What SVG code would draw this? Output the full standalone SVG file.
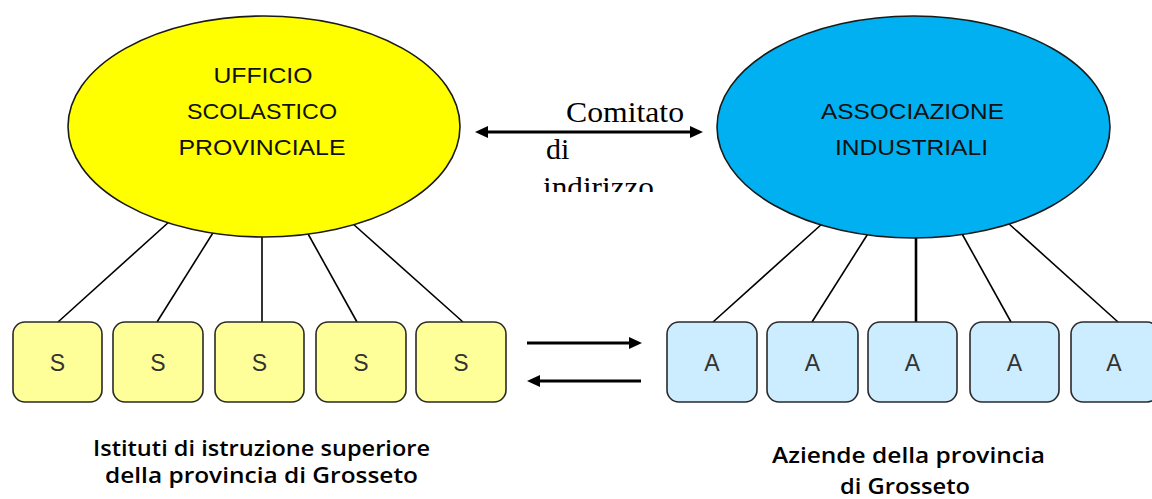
<svg xmlns="http://www.w3.org/2000/svg" width="1152" height="499" viewBox="0 0 1152 499">
  <style>
    .conn { stroke: #000; stroke-width: 1.6; fill: none; }
    .arrow { stroke: #000; stroke-width: 3; fill: none; }
    .ell { stroke: #1a1a1a; stroke-width: 1.6; }
    .sbox { fill: #FFFF99; stroke: #2a2a2a; stroke-width: 1.6; }
    .abox { fill: #CCECFF; stroke: #2a2a2a; stroke-width: 1.6; }
    .etxt { font-family: "Liberation Sans", Arial, sans-serif; font-size: 22px; fill: #111; text-anchor: middle; }
    .btxt { font-family: "Liberation Sans", Arial, sans-serif; font-size: 23px; fill: #333; text-anchor: middle; }
    .cap { font-family: "Open Sans", "Liberation Sans", sans-serif; font-size: 21px; font-weight: 600; fill: #000; text-anchor: middle; }
    .serif { font-family: "Liberation Serif", "Times New Roman", serif; font-size: 30px; fill: #000; }
  </style>
  <defs>
    <marker id="ah" markerUnits="userSpaceOnUse" markerWidth="14" markerHeight="12" refX="3" refY="6" orient="auto-start-reverse">
      <path d="M0,0 L13,6 L0,12 z" fill="#000"/>
    </marker>
    <clipPath id="clipText">
      <rect x="0" y="0" width="1152" height="192"/>
    </clipPath>
  </defs>

  <g id="connectors">
    <line class="conn" x1="170" y1="221" x2="58" y2="322"/>
    <line class="conn" x1="216" y1="228" x2="157" y2="322"/>
    <line class="conn" x1="262" y1="234" x2="262" y2="322"/>
    <line class="conn" x1="307" y1="232" x2="357" y2="322"/>
    <line class="conn" x1="352" y1="223" x2="463" y2="322"/>

    <line class="conn" x1="823" y1="223" x2="713" y2="322"/>
    <line class="conn" x1="869" y1="232" x2="812" y2="322"/>
    <line class="conn" x1="916" y1="235" x2="916" y2="322" style="stroke-width:2.6"/>
    <line class="conn" x1="961" y1="232" x2="1011" y2="322"/>
    <line class="conn" x1="1008" y1="223" x2="1118" y2="322"/>

    <line class="arrow" x1="485" y1="132" x2="693" y2="132" marker-start="url(#ah)" marker-end="url(#ah)"/>
    <line class="arrow" x1="527" y1="343" x2="632" y2="343" marker-end="url(#ah)"/>
    <line class="arrow" x1="641" y1="381" x2="537" y2="381" marker-end="url(#ah)"/>
  </g>

  <g id="comitato-label">
    <text class="serif" x="566" y="122" textLength="118" lengthAdjust="spacingAndGlyphs">Comitato</text>
    <text class="serif" x="546" y="159">di</text>
    <text class="serif" x="543" y="197" clip-path="url(#clipText)" textLength="111" lengthAdjust="spacingAndGlyphs">indirizzo</text>
  </g>

  <g id="ufficio">
    <ellipse class="ell" cx="264" cy="126.5" rx="196" ry="110.5" fill="#FFFF00"/>
    <text class="etxt" x="263" y="83" textLength="99" lengthAdjust="spacingAndGlyphs">UFFICIO</text>
    <text class="etxt" x="262" y="119" textLength="150" lengthAdjust="spacingAndGlyphs">SCOLASTICO</text>
    <text class="etxt" x="262" y="155" textLength="167" lengthAdjust="spacingAndGlyphs">PROVINCIALE</text>
  </g>

  <g id="associazione">
    <ellipse class="ell" cx="913.5" cy="127" rx="196.5" ry="111" fill="#00B0F0"/>
    <text class="etxt" x="912.5" y="119" textLength="183" lengthAdjust="spacingAndGlyphs">ASSOCIAZIONE</text>
    <text class="etxt" x="911.5" y="155" textLength="153" lengthAdjust="spacingAndGlyphs">INDUSTRIALI</text>
  </g>

  <g id="s1"><rect class="sbox" x="13" y="322" width="89" height="80" rx="12"/><text class="btxt" x="57.5" y="371">S</text></g>
  <g id="s2"><rect class="sbox" x="113" y="322" width="90" height="80" rx="12"/><text class="btxt" x="158" y="371">S</text></g>
  <g id="s3"><rect class="sbox" x="215" y="322" width="89" height="80" rx="12"/><text class="btxt" x="259.5" y="371">S</text></g>
  <g id="s4"><rect class="sbox" x="316" y="322" width="90" height="80" rx="12"/><text class="btxt" x="361" y="371">S</text></g>
  <g id="s5"><rect class="sbox" x="416" y="322" width="90" height="80" rx="12"/><text class="btxt" x="461" y="371">S</text></g>

  <g id="a1"><rect class="abox" x="667" y="322" width="90" height="80" rx="12"/><text class="btxt" x="712" y="371">A</text></g>
  <g id="a2"><rect class="abox" x="767" y="322" width="91" height="80" rx="12"/><text class="btxt" x="812.5" y="371">A</text></g>
  <g id="a3"><rect class="abox" x="868" y="322" width="89" height="80" rx="12"/><text class="btxt" x="912.5" y="371">A</text></g>
  <g id="a4"><rect class="abox" x="970" y="322" width="89" height="80" rx="12"/><text class="btxt" x="1014.5" y="371">A</text></g>
  <g id="a5"><rect class="abox" x="1071" y="322" width="88" height="80" rx="12"/><text class="btxt" x="1114" y="371">A</text></g>

  <g id="caption-istituti">
    <text class="cap" x="261.5" y="456" textLength="337" lengthAdjust="spacingAndGlyphs">Istituti di istruzione superiore</text>
    <text class="cap" x="261.5" y="483" textLength="313" lengthAdjust="spacingAndGlyphs">della provincia di Grosseto</text>
  </g>
  <g id="caption-aziende">
    <text class="cap" x="908.5" y="463" textLength="273" lengthAdjust="spacingAndGlyphs">Aziende della provincia</text>
    <text class="cap" x="905" y="494" textLength="130" lengthAdjust="spacingAndGlyphs">di Grosseto</text>
  </g>
</svg>
